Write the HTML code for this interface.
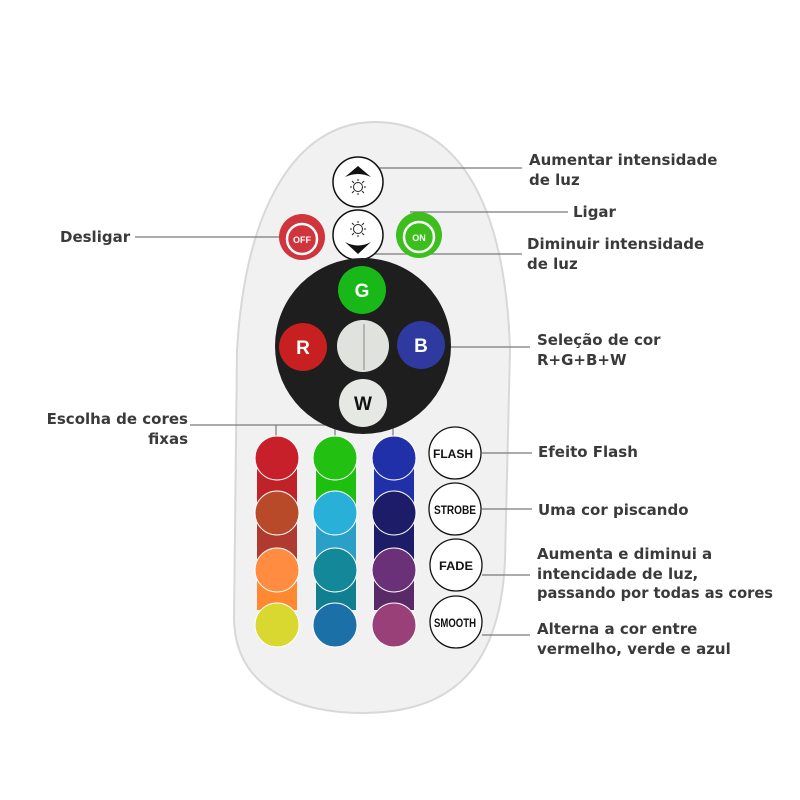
<!DOCTYPE html>
<html><head><meta charset="utf-8"><style>
html,body{margin:0;padding:0;background:#fff;width:800px;height:800px;overflow:hidden}
text{font-family:"Liberation Sans",sans-serif}
.l{font-family:"DejaVu Sans","Liberation Sans",sans-serif;font-size:15px;font-weight:bold;fill:#3a3a3a}
.b{font-weight:bold;fill:#fff;text-anchor:middle}
.k{font-weight:bold;fill:#111;text-anchor:middle;font-size:12px}
</style></head><body>
<svg width="800" height="800" viewBox="0 0 800 800" xmlns="http://www.w3.org/2000/svg">
<path d="M375 122 C300 122 246 200 237 350 L234 620 C236 690 300 713 362 713 C440 713 500 680 505 560 L510 350 C505 190 450 122 375 122 Z" fill="#f1f1f1" stroke="#d8d8d8" stroke-width="2"/>
<g stroke="#7a7a7a" stroke-width="1.2" fill="none">
<line x1="375" y1="168" x2="522" y2="168"/>
<line x1="410" y1="212" x2="568" y2="212"/>
<line x1="375" y1="254" x2="522" y2="254"/>
<line x1="135" y1="237" x2="280" y2="237"/>
<line x1="320" y1="347" x2="530" y2="347"/>
<line x1="190" y1="425" x2="393" y2="425"/>
<line x1="276" y1="425" x2="276" y2="436"/>
<line x1="335" y1="425" x2="335" y2="436"/>
<line x1="393" y1="425" x2="393" y2="436"/>
<line x1="482" y1="453" x2="532" y2="453"/>
<line x1="482" y1="509" x2="532" y2="509"/>
<line x1="482" y1="575" x2="530" y2="575"/>
<line x1="482" y1="635" x2="530" y2="635"/>
</g>
<!-- up/down -->
<circle cx="358" cy="182" r="25" fill="#fff" stroke="#111" stroke-width="1.5"/>
<path d="M345 177 L358 166 L371 177 Q358 171 345 177Z" fill="#111"/>
<circle cx="358" cy="187" r="4.5" fill="none" stroke="#222"/>
<g stroke="#222" stroke-width="1"><line x1="358" y1="179" x2="358" y2="181"/><line x1="358" y1="193" x2="358" y2="195"/><line x1="350" y1="187" x2="352" y2="187"/><line x1="364" y1="187" x2="366" y2="187"/><line x1="352" y1="181" x2="354" y2="183"/><line x1="362" y1="191" x2="364" y2="193"/><line x1="364" y1="181" x2="362" y2="183"/><line x1="352" y1="193" x2="354" y2="191"/></g>
<circle cx="358" cy="235" r="25" fill="#fff" stroke="#111" stroke-width="1.5"/>
<path d="M345 242 Q358 249 371 242 L358 254 Z" fill="#111"/>
<circle cx="358" cy="229" r="4.5" fill="none" stroke="#222"/>
<g stroke="#222" stroke-width="1"><line x1="358" y1="221" x2="358" y2="223"/><line x1="358" y1="235" x2="358" y2="237"/><line x1="350" y1="229" x2="352" y2="229"/><line x1="364" y1="229" x2="366" y2="229"/><line x1="352" y1="223" x2="354" y2="225"/><line x1="362" y1="233" x2="364" y2="235"/><line x1="364" y1="223" x2="362" y2="225"/><line x1="352" y1="235" x2="354" y2="233"/></g>
<!-- off/on -->
<circle cx="302" cy="237" r="23" fill="#d0343c"/>
<circle cx="302" cy="239" r="15" fill="none" stroke="#fff" stroke-width="2.5"/>
<text x="302" y="243" class="b" font-size="9" font-weight="normal">OFF</text>
<circle cx="419" cy="235" r="23" fill="#3cbf1c"/>
<circle cx="419" cy="237" r="15" fill="none" stroke="#fff" stroke-width="2.5"/>
<text x="419" y="241" class="b" font-size="9" font-weight="normal">ON</text>
<!-- rgb pad -->
<circle cx="363" cy="346" r="88" fill="#1e1e1e"/>
<circle cx="362" cy="290" r="24" fill="#18b818"/><text x="362" y="297" class="b" font-size="19">G</text>
<circle cx="303" cy="347" r="24" fill="#c82020"/><text x="303" y="354" class="b" font-size="19">R</text>
<circle cx="421" cy="345" r="24" fill="#2e3aa0"/><text x="421" y="352" class="b" font-size="19">B</text>
<circle cx="363" cy="346" r="26" fill="#dfe2dd"/>
<circle cx="363" cy="403" r="24" fill="#e6e8e4"/><text x="363" y="410" class="b" font-size="19" style="fill:#111">W</text>
<line x1="364" y1="324" x2="364" y2="370" stroke="#888"/>
<!-- columns -->
<rect x="257" y="458" width="40" height="150" fill="#b03a30"/>
<rect x="257" y="458" width="40" height="55" fill="#c0222a"/>
<rect x="257" y="570" width="40" height="40" fill="#ff8830"/>
<rect x="316" y="458" width="40" height="150" fill="#2aa0c8"/>
<rect x="316" y="458" width="40" height="45" fill="#1ec010"/>
<rect x="316" y="570" width="40" height="40" fill="#108090"/>
<rect x="374" y="458" width="40" height="150" fill="#1c1c68"/>
<rect x="374" y="458" width="40" height="45" fill="#2030a8"/>
<rect x="374" y="570" width="40" height="40" fill="#5a2a68"/>
<g stroke="#fff" stroke-width="1">
<circle cx="277" cy="458" r="22" fill="#c8202a"/><circle cx="277" cy="513" r="22" fill="#b84a2a"/><circle cx="277" cy="570" r="22" fill="#ff8c40"/><circle cx="277" cy="625" r="22" fill="#d8d830"/>
<circle cx="335" cy="458" r="22" fill="#22c010"/><circle cx="335" cy="513" r="22" fill="#28b0d8"/><circle cx="335" cy="570" r="22" fill="#138898"/><circle cx="335" cy="625" r="22" fill="#1c70a8"/>
<circle cx="394" cy="458" r="22" fill="#2030a8"/><circle cx="394" cy="513" r="22" fill="#1c1c68"/><circle cx="394" cy="570" r="22" fill="#6a3078"/><circle cx="394" cy="625" r="22" fill="#9a4078"/>
</g>
<g fill="#fff" stroke="#111" stroke-width="1.3">
<circle cx="455" cy="453" r="26"/><circle cx="455" cy="509" r="26"/><circle cx="456" cy="565" r="26"/><circle cx="456" cy="622" r="26"/>
</g>
<text x="453" y="458" class="k" textLength="40" lengthAdjust="spacingAndGlyphs">FLASH</text>
<text x="455" y="514" class="k" textLength="42" lengthAdjust="spacingAndGlyphs">STROBE</text>
<text x="456" y="570" class="k" font-size="13" textLength="34" lengthAdjust="spacingAndGlyphs">FADE</text>
<text x="455" y="627" class="k" textLength="42" lengthAdjust="spacingAndGlyphs">SMOOTH</text>
<!-- labels -->
<text class="l" x="529" y="165">Aumentar intensidade</text>
<text class="l" x="529" y="185">de luz</text>
<text class="l" x="573" y="217">Ligar</text>
<text class="l" x="527" y="249">Diminuir intensidade</text>
<text class="l" x="527" y="269">de luz</text>
<text class="l" x="60" y="242">Desligar</text>
<text class="l" x="537" y="345">Seleção de cor</text>
<text class="l" x="537" y="365">R+G+B+W</text>
<text class="l" x="188" y="424" text-anchor="end">Escolha de cores</text>
<text class="l" x="188" y="444" text-anchor="end">fixas</text>
<text class="l" x="538" y="457">Efeito Flash</text>
<text class="l" x="538" y="515">Uma cor piscando</text>
<text class="l" x="537" y="559">Aumenta e diminui a</text>
<text class="l" x="537" y="579">intencidade de luz,</text>
<text class="l" x="537" y="598" textLength="236" lengthAdjust="spacingAndGlyphs">passando por todas as cores</text>
<text class="l" x="537" y="634">Alterna a cor entre</text>
<text class="l" x="537" y="654">vermelho, verde e azul</text>
</svg>
</body></html>
